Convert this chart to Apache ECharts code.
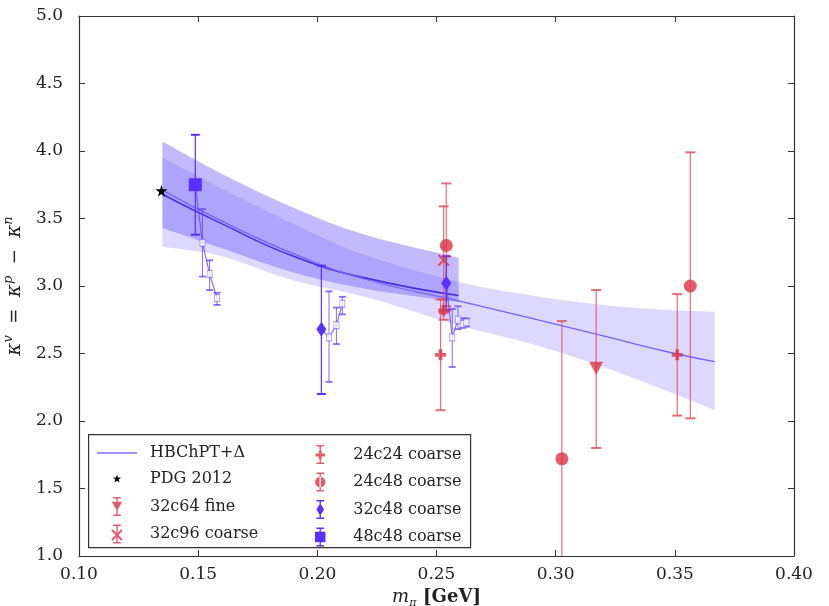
<!DOCTYPE html>
<html>
<head>
<meta charset="utf-8">
<script src="https://cdn.jsdelivr.net/npm/echarts@6/dist/echarts.min.js"></script>
<style>
html, body { margin: 0; padding: 0; background: #fff; }
#chart { width: 829px; height: 606px; }
</style>
</head>
<body>
<div id="chart"></div>
<script>
// fit bands (short darker band and the long light band)
const bandAx = [0.135, 0.16, 0.19, 0.22, 0.2593];
const bandAtop = [4.07, 3.83, 3.58, 3.38, 3.21];
const bandAbot = [3.43, 3.28, 3.10, 2.98, 2.88];
const fitAy = [3.68, 3.46, 3.22, 3.06, 2.93];

const bandBx = [0.135, 0.16, 0.19, 0.22, 0.2593, 0.29, 0.32, 0.35, 0.3667];
const bandBtop = [3.95, 3.72, 3.46, 3.23, 3.03, 2.93, 2.86, 2.82, 2.81];
const bandBbot = [3.29, 3.22, 3.04, 2.92, 2.71, 2.57, 2.40, 2.20, 2.08];
const fitBy = [3.71, 3.48, 3.24, 3.05, 2.89, 2.76, 2.63, 2.50, 2.44];

// data points
const pdgX = [0.1346];
const pdgY = [3.706];

const fine3264X = [0.3170];
const fine3264Y = [2.39];
const fine3264Lo = [1.80];
const fine3264Hi = [2.97];

const c3296X = [0.2530];
const c3296Y = [3.19];
const c3296Lo = [2.80];
const c3296Hi = [3.59];

const c2424X = [0.2517, 0.2530, 0.3510];
const c2424Y = [2.49, 2.82, 2.49];
const c2424Lo = [2.08, 2.75, 2.04];
const c2424Hi = [2.90, 2.90, 2.94];

const c2448X = [0.2541, 0.3026, 0.3565];
const c2448Y = [3.30, 1.72, 3.00];
const c2448Lo = [2.85, 0.70, 2.02];
const c2448Hi = [3.76, 2.74, 3.99];

const c3248X = [0.2017, 0.2541];
const c3248Y = [2.68, 3.02];
const c3248Lo = [2.20, 2.82];
const c3248Hi = [3.15, 3.22];

const c4848X = [0.1488];
const c4848Y = [3.75];
const c4848Lo = [3.38];
const c4848Hi = [4.12];

// open (unfilled) markers trailing off the lattice points
const openX = [[0.1488, 0.1518, 0.1548, 0.1579], [0.2017, 0.2049, 0.2080, 0.2105], [0.2541, 0.2566, 0.2590, 0.2610, 0.2625]];
const openY = [[3.75, 3.32, 3.09, 2.91], [2.68, 2.62, 2.71, 2.87], [3.02, 2.62, 2.75, 2.72, 2.73]];
const openLo = [[null, 3.07, 2.97, 2.86], [null, 2.29, 2.57, 2.79], [null, 2.40, 2.68, 2.69, 2.70]];
const openHi = [[null, 3.57, 3.19, 2.95], [null, 2.96, 2.84, 2.92], [null, 2.83, 2.85, 2.76, 2.76]];

const xTicks = [0.10, 0.40, 0.05];
const yTicks = [1.0, 5.0, 0.5];

const RED = 'rgba(221,51,68,0.8)';
const REDBAR = 'rgba(226,72,86,0.8)';
const BLUE = '#5a30ff';
const SERIF = 'DejaVu Serif';

const pairs = (xs, ys) => xs.map((x, i) => [x, ys[i]]);

// catmull-rom -> cubic bezier through pixel points
function curve(pts) {
  let d = '';
  for (let i = 0; i < pts.length - 1; i++) {
    const p0 = pts[i - 1] || pts[i], p1 = pts[i], p2 = pts[i + 1], p3 = pts[i + 2] || pts[i + 1];
    const c1 = [p1[0] + (p2[0] - p0[0]) / 6, p1[1] + (p2[1] - p0[1]) / 6];
    const c2 = [p2[0] - (p3[0] - p1[0]) / 6, p2[1] - (p3[1] - p1[1]) / 6];
    d += 'C' + c1.join(',') + ' ' + c2.join(',') + ' ' + p2.join(',');
  }
  return d;
}

function bandSeries(xs, top, bot, color) {
  return {
    type: 'custom', silent: true, z: 1,
    data: xs.map((x, i) => [x, top[i], bot[i]]),
    renderItem(params, api) {
      if (params.dataIndex !== 0) return;
      const up = xs.map((x, i) => api.coord([x, top[i]]));
      const dn = xs.map((x, i) => api.coord([x, bot[i]])).reverse();
      const d = 'M' + up[0].join(',') + curve(up) + 'L' + dn[0].join(',') + curve(dn) + 'Z';
      return { type: 'path', shape: { pathData: d }, style: { fill: color } };
    }
  };
}

function errSeries(name, xs, lo, hi, color, capW, lw) {
  const rows = [];
  xs.forEach((x, i) => { if (lo[i] != null) rows.push([x, lo[i], hi[i]]); });
  return {
    name, type: 'custom', z: 3, clip: true, silent: true,
    data: rows,
    renderItem(params, api) {
      const a = api.coord([api.value(0), api.value(1)]);
      const b = api.coord([api.value(0), api.value(2)]);
      const h = capW / 2;
      const st = { stroke: color, lineWidth: lw };
      return {
        type: 'group', children: [
          { type: 'line', shape: { x1: a[0], y1: a[1], x2: b[0], y2: b[1] }, style: st },
          { type: 'line', shape: { x1: a[0] - h, y1: a[1], x2: a[0] + h, y2: a[1] }, style: { stroke: color, lineWidth: lw + 0.8 } },
          { type: 'line', shape: { x1: b[0] - h, y1: b[1], x2: b[0] + h, y2: b[1] }, style: { stroke: color, lineWidth: lw + 0.8 } }
        ]
      };
    }
  };
}

function scatter(name, xs, ys, symbol, size, color) {
  return { name, type: 'scatter', z: 4, symbol, symbolSize: size, data: pairs(xs, ys), itemStyle: { color, opacity: 1 } };
}

const STAR = 'path://M50,0L61,35L98,35L68,57L79,91L50,70L21,91L32,57L2,35L39,35Z';
const TRI_DOWN = 'path://M0,0L10,0L5,9Z';
const XMARK = 'path://M1.5,0L6,4.5L10.5,0L12,1.5L7.5,6L12,10.5L10.5,12L6,7.5L1.5,12L0,10.5L4.5,6L0,1.5Z';
const PLUS = 'path://M4,0H8V4H12V8H8V12H4V8H0V4H4Z';

// legend icons (marker + error bar in a 12x20 box)
const BAR = 'M2,0H10V1.6H2Z M5.3,0H6.7V20H5.3Z M2,18.4H10V20H2Z ';
const PAD = 'M0,0h0.01v0.01h-0.01Z M12,20h-0.01v-0.01h0.01Z ';
const icons = {
  line: 'path://M0,0H40V1.3H0Z',
  star: 'path://' + PAD + 'M6,5.5L7.12,8.46L10.28,8.61L7.81,10.59L8.65,13.64L6,11.9L3.35,13.64L4.19,10.59L1.72,8.61L4.88,8.46Z',
  tri: 'path://' + BAR + 'M0.5,5H11.5L6,14.5Z',
  x: 'path://' + BAR + 'M1.5,5L6,9.5L10.5,5L12,6.5L7.5,11L12,15.5L10.5,17L6,12.5L1.5,17L0,15.5L4.5,11L0,6.5Z',
  plus: 'path://' + BAR + 'M4.5,6H7.5V9H11V12H7.5V15H4.5V12H1V9H4.5Z',
  circle: 'path://' + BAR + 'M0.5,10A5.5,5.5 0 1,0 11.5,10A5.5,5.5 0 1,0 0.5,10Z',
  diamond: 'path://' + BAR + 'M6,3.5L10,10L6,16.5L2,10Z',
  square: 'path://' + BAR + 'M0.5,4.5H11.5V15.5H0.5Z'
};

const series = [
  bandSeries(bandBx, bandBtop, bandBbot, 'rgba(110,90,250,0.23)'),
  bandSeries(bandAx, bandAtop, bandAbot, 'rgba(110,90,250,0.42)'),
  { name: 'fitA', type: 'line', z: 2, smooth: true, showSymbol: false, silent: true, data: pairs(bandAx, fitAy), lineStyle: { color: '#4a2de6', width: 1.6 } },
  { name: 'HBChPT+Δ', type: 'line', z: 2, smooth: true, showSymbol: false, silent: true, data: pairs(bandBx, fitBy), color: '#8070ff', lineStyle: { color: '#7462ff', width: 1.3 } }
];

openX.forEach((xs, g) => {
  series.push({ type: 'line', z: 3, silent: true, data: pairs(xs, openY[g]), symbol: 'none', lineStyle: { color: 'rgba(90,60,255,0.75)', width: 1.2 } });
  series.push(errSeries('open' + g, xs, openLo[g], openHi[g], 'rgba(100,70,255,0.8)', 7, 1));
  series.push({ type: 'scatter', z: 4, silent: true, data: pairs(xs.slice(1), openY[g].slice(1)), symbol: 'rect', symbolSize: [5, 7], itemStyle: { color: '#fff', borderColor: 'rgba(120,100,255,0.8)', borderWidth: 1 } });
});

series.push(
  scatter('PDG 2012', pdgX, pdgY, STAR, 12, '#000'),
  scatter('32c64 fine', fine3264X, fine3264Y, TRI_DOWN, [14, 13], RED),
  errSeries('32c64 fine', fine3264X, fine3264Lo, fine3264Hi, REDBAR, 10, 1.2),
  scatter('32c96 coarse', c3296X, c3296Y, XMARK, 12, RED),
  errSeries('32c96 coarse', c3296X, c3296Lo, c3296Hi, REDBAR, 10, 1.2),
  scatter('24c24 coarse', c2424X, c2424Y, PLUS, 11, RED),
  errSeries('24c24 coarse', c2424X, c2424Lo, c2424Hi, REDBAR, 10, 1.2),
  scatter('24c48 coarse', c2448X, c2448Y, 'circle', 13, RED),
  errSeries('24c48 coarse', c2448X, c2448Lo, c2448Hi, REDBAR, 10, 1.2),
  scatter('32c48 coarse', c3248X, c3248Y, 'diamond', [10, 15], BLUE),
  errSeries('32c48 coarse', c3248X, c3248Lo, c3248Hi, BLUE, 9, 1.2),
  scatter('48c48 coarse', c4848X, c4848Y, 'rect', 13, BLUE),
  errSeries('48c48 coarse', c4848X, c4848Lo, c4848Hi, BLUE, 9, 1.2)
);

const axisCommon = {
  type: 'value',
  axisLine: { onZero: false, lineStyle: { color: '#333', width: 1.2 } },
  axisTick: { inside: true, length: 6, lineStyle: { color: '#333' } },
  splitLine: { show: false }
};

const legendCommon = {
  orient: 'vertical', top: 440, itemWidth: 40, itemHeight: 19, itemGap: 8.5,
  selectedMode: false, z: 6,
  textStyle: { fontFamily: SERIF, fontSize: 16, color: '#222', padding: [0, 0, 0, 8] }
};

const chart = echarts.init(document.getElementById('chart'));
chart.setOption({
  animation: false,
  backgroundColor: '#fff',
  grid: { left: 79, right: 35, top: 16, bottom: 50, outerBoundsMode: 'none', containLabel: false },
  xAxis: [
    Object.assign({}, axisCommon, {
      min: xTicks[0], max: xTicks[1], interval: xTicks[2], position: 'bottom',
      axisLabel: { formatter: v => v.toFixed(2), color: '#222', fontFamily: SERIF, fontSize: 17, margin: 10 },
      name: '{i|m}{s|π}  {n|[GeV]}', nameLocation: 'middle', nameGap: 26,
      nameTextStyle: {
        rich: {
          i: { fontFamily: SERIF, fontStyle: 'italic', fontSize: 18, color: '#222', lineHeight: 24 },
          s: { fontFamily: SERIF, fontStyle: 'italic', fontSize: 11, color: '#222', lineHeight: 12, verticalAlign: 'bottom' },
          n: { fontFamily: SERIF, fontSize: 18, fontWeight: 'bold', color: '#222', lineHeight: 24 }
        }
      }
    }),
    Object.assign({}, axisCommon, {
      min: xTicks[0], max: xTicks[1], interval: xTicks[2], position: 'top', axisLabel: { show: false }
    })
  ],
  yAxis: [
    Object.assign({}, axisCommon, {
      min: yTicks[0], max: yTicks[1], interval: yTicks[2], position: 'left',
      axisLabel: { formatter: v => v.toFixed(1), color: '#222', fontFamily: SERIF, fontSize: 17, margin: 16 },
      name: '{i|κ}{p|v}{n|  =  }{i|κ}{p|p}{n|  −  }{i|κ}{p|n}', nameLocation: 'middle', nameGap: 44, nameRotate: 90,
      nameTextStyle: {
        rich: {
          i: { fontFamily: SERIF, fontStyle: 'italic', fontSize: 20, color: '#222', lineHeight: 26 },
          p: { fontFamily: SERIF, fontStyle: 'italic', fontSize: 13, color: '#222', lineHeight: 13, verticalAlign: 'top' },
          n: { fontFamily: SERIF, fontSize: 18, color: '#222', lineHeight: 26 }
        }
      }
    }),
    Object.assign({}, axisCommon, {
      min: yTicks[0], max: yTicks[1], interval: yTicks[2], position: 'right', axisLabel: { show: false }
    })
  ],
  legend: [
    Object.assign({}, legendCommon, {
      left: 92,
      data: [
        { name: 'HBChPT+Δ', icon: icons.line },
        { name: 'PDG 2012', icon: icons.star },
        { name: '32c64 fine', icon: icons.tri },
        { name: '32c96 coarse', icon: icons.x }
      ]
    }),
    Object.assign({}, legendCommon, {
      left: 310,
      data: [
        { name: '24c24 coarse', icon: icons.plus },
        { name: '24c48 coarse', icon: icons.circle },
        { name: '32c48 coarse', icon: icons.diamond },
        { name: '48c48 coarse', icon: icons.square }
      ]
    })
  ],
  graphic: [{
    type: 'rect', left: 88, top: 434, z: 5,
    shape: { width: 382, height: 113 },
    style: { fill: '#fff', stroke: '#333', lineWidth: 1.2 }
  }],
  series
});
</script>
</body>
</html>
